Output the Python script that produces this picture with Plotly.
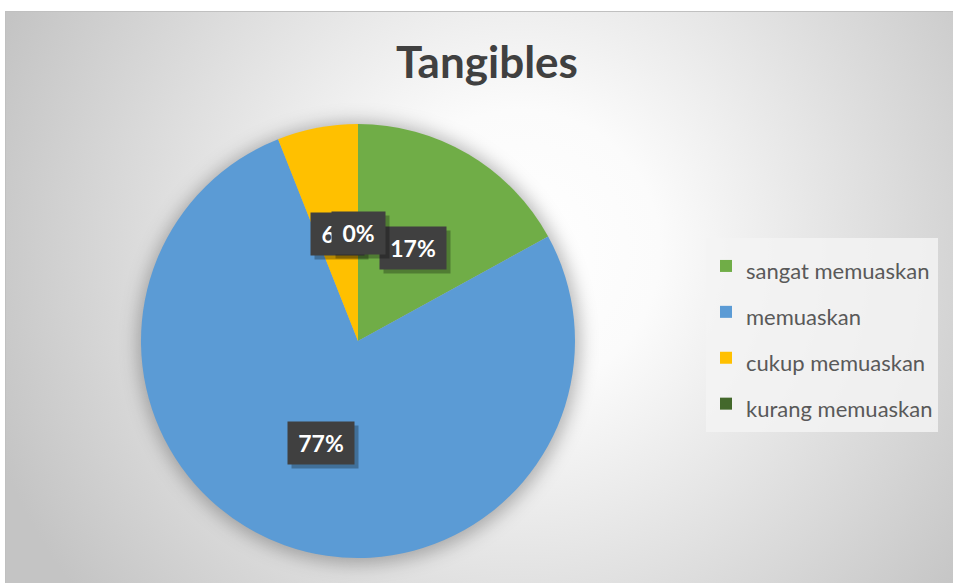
import base64, math
import plotly.graph_objects as go

# ---- data ----
categories = ["sangat memuaskan", "memuaskan", "cukup memuaskan", "kurang memuaskan"]
values = [17, 77, 6, 0]
colors = ["#70AD47", "#5B9BD5", "#FFC000", "#43682B"]
title_text = "Tangibles"

# ---- layout geometry ----
W, H = 953, 583
CX, CY, R = 358, 341, 217          # pie centre / radius in px
dom_x = [(CX - R) / W, (CX + R) / W]
dom_y = [1 - (CY + R) / H, 1 - (CY - R) / H]

# background: radial gradient chart area + soft pie shadow
svg = f'''<svg xmlns="http://www.w3.org/2000/svg" width="{W}" height="{H}" viewBox="0 0 {W} {H}" preserveAspectRatio="none">
<defs>
<radialGradient id="g" cx="{520}" cy="{250}" r="560" gradientUnits="userSpaceOnUse">
<stop offset="0" stop-color="#ffffff"/>
<stop offset="0.25" stop-color="#fbfbfb"/>
<stop offset="1" stop-color="#c4c4c4"/>
</radialGradient>
<filter id="b" x="-30%" y="-30%" width="160%" height="160%"><feGaussianBlur stdDeviation="9"/></filter>
</defs>
<rect x="0" y="0" width="{W}" height="{H}" fill="#ffffff"/>
<rect x="5.5" y="11.5" width="{W}" height="{H}" fill="url(#g)" stroke="#c0c0c0" stroke-width="1"/>
<circle cx="{CX+1}" cy="{CY+2}" r="{R+4}" fill="#000" fill-opacity="0.28" filter="url(#b)"/>
</svg>'''
bg_uri = "data:image/svg+xml;base64," + base64.b64encode(svg.encode()).decode()

legend_labels = [f'<span style="font-size:22px">{c}</span>' for c in categories]

fig = go.Figure(go.Pie(
    labels=legend_labels,
    values=values,
    marker=dict(colors=colors, line=dict(width=0)),
    sort=False,
    direction="clockwise",
    rotation=0,
    textinfo="none",
    hoverinfo="label+percent",
    domain=dict(x=dom_x, y=dom_y),
))

# data labels (dark boxes) at half radius on each slice's mid-angle
total = sum(values)
annotations = []
cum = 0
for v in values:
    frac_mid = (cum + v / 2) / total
    cum += v
    th = 2 * math.pi * frac_mid
    px = CX + 0.5 * R * math.sin(th)
    py = CY - 0.5 * R * math.cos(th)
    txt = f"{round(100 * v / total)}%"
    w = 13 * len(txt) + 25
    common = dict(xref="paper", yref="paper", x=px / W, y=1 - py / H,
                  showarrow=False, width=w, height=40, xanchor="center", yanchor="middle")
    annotations.append(dict(text=" ", bgcolor="rgba(0,0,0,0.28)", xshift=4, yshift=-4,
                            font=dict(size=22), **common))
    annotations.append(dict(text=f"<b>{txt}</b>", bgcolor="#404040",
                            font=dict(family="Lato", size=23, color="#ffffff"), **common))

fig.update_layout(
    width=W, height=H,
    margin=dict(l=0, r=0, t=0, b=0),
    paper_bgcolor="#ffffff",
    images=[dict(source=bg_uri, xref="paper", yref="paper", x=0, y=1, sizex=1, sizey=1,
                 xanchor="left", yanchor="top", sizing="stretch", layer="below")],
    title=dict(text=f"<b>{title_text}</b>", x=487 / W, xanchor="center",
               y=1 - 63 / H, yanchor="middle",
               font=dict(family="Lato", size=44, color="#404040")),
    showlegend=True,
    legend=dict(x=706 / W, y=1 - 238 / H, xanchor="left", yanchor="top",
                bgcolor="rgba(243,243,243,0.85)", borderwidth=0,
                font=dict(family="Lato", size=33, color="#595959"),
                traceorder="normal"),
    annotations=annotations,
)

fig.write_html("out.html")
